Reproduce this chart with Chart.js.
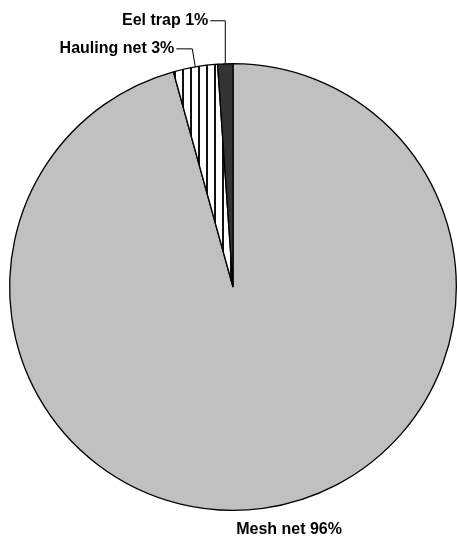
<!DOCTYPE html>
<html>
<head>
<meta charset="utf-8">
<script src="https://cdn.jsdelivr.net/npm/chart.js@4.4.0/dist/chart.umd.min.js"></script>
<style>
  body { margin: 0; background: #fff; }
  #c { display: block; }
</style>
</head>
<body>
<canvas id="c" width="457" height="538"></canvas>
<script>
// gear types, clockwise from 12 o'clock
var gear_labels = ['Mesh net', 'Hauling net', 'Eel trap'];
var gear_share = [95.7, 3.2, 1.1];
var share_text = ['96%', '3%', '1%'];

// vertical hatch for the hauling net slice
function stripes() {
    var p = document.createElement('canvas');
    p.width = 8; p.height = 8;
    var g = p.getContext('2d');
    g.fillStyle = '#fff';
    g.fillRect(0, 0, 8, 8);
    g.fillStyle = '#111';
    g.fillRect(6, 0, 2, 8);
    return g.createPattern(p, 'repeat');
}

var ctx = document.getElementById('c').getContext('2d');

// label placement: leader bends relative to each slice's outer edge midpoint
var LABELS = [
    {dx: 26, dy: 21, align: 'center', leader: null},
    {bend: [-3, -18], end: [-19, -18], gap: 2, leader: true},
    {bend: [0, -43], end: [-15, -43], gap: 2, leader: true}
];

var labelPlugin = {
    id: 'gearLabels',
    afterDraw: function(chart) {
        var c = chart.ctx;
        var meta = chart.getDatasetMeta(0);
        c.save();
        c.font = 'bold 16px "Liberation Sans", Arial, sans-serif';
        c.fillStyle = '#000';
        c.strokeStyle = '#000';
        c.lineWidth = 1;
        c.textBaseline = 'middle';
        meta.data.forEach(function(arc, i) {
            var p = arc.getProps(['x', 'y', 'startAngle', 'endAngle', 'outerRadius'], true);
            var mid = (p.startAngle + p.endAngle) / 2;
            var ex = p.x + Math.cos(mid) * p.outerRadius;
            var ey = p.y + Math.sin(mid) * p.outerRadius;
            var L = LABELS[i];
            var txt = gear_labels[i] + ' ' + share_text[i];
            if (L.leader) {
                var bx = ex + L.bend[0], by = ey + L.bend[1];
                var tx = ex + L.end[0], ty = ey + L.end[1];
                c.beginPath();
                c.moveTo(ex, ey);
                c.lineTo(bx, by);
                c.lineTo(tx, ty);
                c.stroke();
                c.textAlign = 'right';
                c.fillText(txt, tx - L.gap, ty);
            } else {
                c.textAlign = L.align;
                c.fillText(txt, ex + L.dx, ey + L.dy);
            }
        });
        c.restore();
    }
};

new Chart(ctx, {
    type: 'pie',
    data: {
        labels: gear_labels,
        datasets: [{
            data: gear_share,
            backgroundColor: ['#c0c0c0', stripes(), '#333333'],
            borderColor: '#000',
            borderWidth: 1.3,
            hoverOffset: 0
        }]
    },
    options: {
        responsive: false,
        animation: false,
        layout: { padding: {left: 9, right: 0, top: 63, bottom: 27} },
        plugins: {
            legend: { display: false },
            tooltip: { enabled: false }
        }
    },
    plugins: [labelPlugin]
});
</script>
</body>
</html>
